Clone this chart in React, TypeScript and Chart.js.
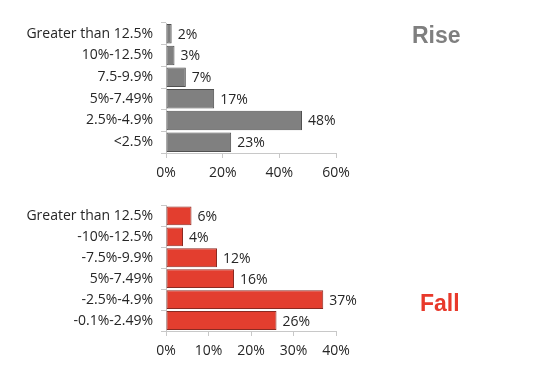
import React, { useEffect, useRef } from "react";
import { Chart, registerables } from "chart.js";
Chart.register(...registerables);

const riseCategories = ["Greater than 12.5%", "10%-12.5%", "7.5-9.9%", "5%-7.49%", "2.5%-4.9%", "<2.5%"];
const riseValues = [2, 3, 7, 17, 48, 23];
const riseTicks = [0, 20, 40, 60];

const fallCategories = ["Greater than 12.5%", "-10%-12.5%", "-7.5%-9.9%", "5%-7.49%", "-2.5%-4.9%", "-0.1%-2.49%"];
const fallValues = [6, 4, 12, 16, 37, 26];
const fallTicks = [0, 10, 20, 30, 40];

const FONT = "'Open Sans', 'DejaVu Sans', sans-serif";
const TEXT = "#262626";

const valueLabels = {
  id: "valueLabels",
  afterDatasetsDraw(chart: any) {
    const ctx = chart.ctx;
    const meta = chart.getDatasetMeta(0);
    const data = chart.data.datasets[0].data;
    ctx.save();
    ctx.font = `14px ${FONT}`;
    ctx.fillStyle = TEXT;
    ctx.textAlign = "left";
    ctx.textBaseline = "middle";
    meta.data.forEach((bar: any, i: number) => {
      ctx.fillText(data[i] + "%", bar.x + 6, bar.y + 1);
    });
    ctx.restore();
  },
};

function BarPanel(props: {
  labels: string[];
  values: number[];
  ticks: number[];
  fill: string;
  border: string;
  top: number;
  padTop: number;
  padBottom: number;
}) {
  const ref = useRef<HTMLCanvasElement>(null);
  useEffect(() => {
    const max = props.ticks[props.ticks.length - 1];
    const step = props.ticks[1] - props.ticks[0];
    const chart = new Chart(ref.current!, {
      type: "bar",
      data: {
        labels: props.labels,
        datasets: [
          {
            data: props.values,
            backgroundColor: props.fill,
            borderColor: props.border,
            borderWidth: 1,
            borderSkipped: false,
            barPercentage: 0.9,
            categoryPercentage: 1,
          },
        ],
      },
      options: {
        indexAxis: "y",
        animation: false,
        responsive: false,
        maintainAspectRatio: false,
        layout: { padding: { top: props.padTop, right: 202, bottom: props.padBottom, left: 0 } },
        plugins: { legend: { display: false }, tooltip: { enabled: false } },
        scales: {
          x: {
            min: 0,
            max: max,
            ticks: {
              stepSize: step,
              callback: (v: any) => v + "%",
              color: TEXT,
              font: { family: FONT, size: 14 },
              padding: 7,
              maxRotation: 0,
            },
            grid: { drawOnChartArea: false, drawTicks: true, tickLength: 5, color: "#c8c8c8" },
            border: { color: "#c8c8c8" },
            afterFit: (s: any) => {
              s.height = 30;
            },
          },
          y: {
            ticks: {
              color: TEXT,
              font: { family: FONT, size: 14 },
              padding: 8,
            },
            grid: { drawOnChartArea: false, drawTicks: true, tickLength: 5, color: "#c8c8c8" },
            border: { color: "#c8c8c8" },
            afterFit: (s: any) => {
              s.width = 166;
            },
          },
        },
      },
      plugins: [valueLabels],
    });
    return () => chart.destroy();
  }, []);
  return (
    <canvas
      ref={ref}
      width={538}
      height={189}
      style={{ position: "absolute", left: 0, top: props.top, width: 538, height: 189 }}
    />
  );
}

export default function App() {
  useEffect(() => {
    document.body.style.margin = "0";
  }, []);
  return (
    <div style={{ position: "relative", width: 538, height: 378, background: "#fff", overflow: "hidden" }}>
      <BarPanel labels={riseCategories} values={riseValues} ticks={riseTicks} fill="#808080" border="#505050" top={0} padTop={23} padBottom={6} />
      <BarPanel labels={fallCategories} values={fallValues} ticks={fallTicks} fill="#e33e2f" border="#8a2a22" top={189} padTop={16} padBottom={17} />
      <div
        style={{
          position: "absolute",
          left: 412,
          top: 23,
          font: `bold 23px 'Liberation Sans', Arial, sans-serif`,
          lineHeight: "24px",
          color: "#7f7f7f",
        }}
      >
        Rise
      </div>
      <div
        style={{
          position: "absolute",
          left: 420,
          top: 291,
          font: `bold 23px 'Liberation Sans', Arial, sans-serif`,
          lineHeight: "24px",
          color: "#e8392b",
        }}
      >
        Fall
      </div>
    </div>
  );
}
